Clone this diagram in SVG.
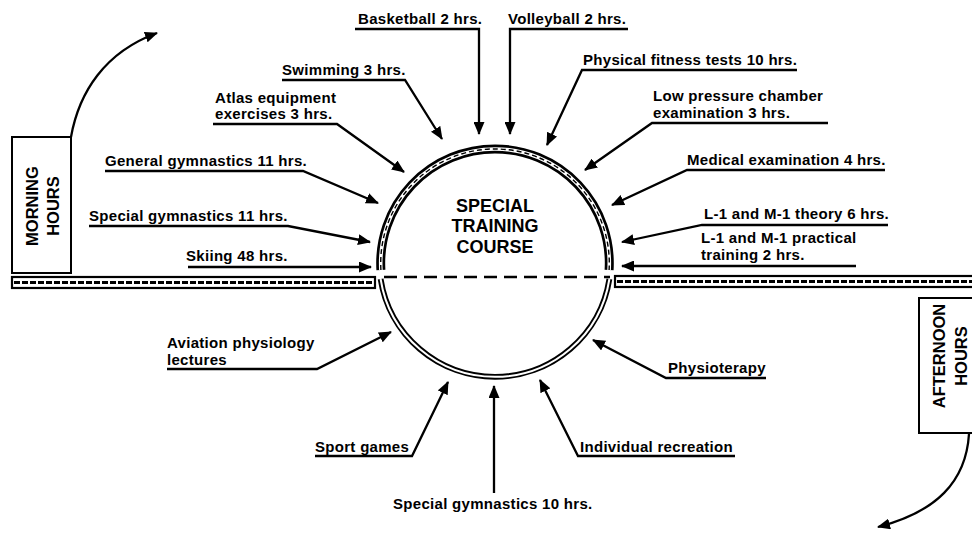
<svg xmlns="http://www.w3.org/2000/svg" width="972" height="535" viewBox="0 0 972 535">
<style>
  .lbl{font-family:"Liberation Sans",Arial,sans-serif;font-weight:bold;font-size:15px;letter-spacing:0.3px;fill:#000}
  .ttl{font-family:"Liberation Sans",Arial,sans-serif;font-weight:bold;font-size:18px;fill:#000}
  .vt{font-family:"Liberation Sans",Arial,sans-serif;font-weight:bold;font-size:16.5px;fill:#000}
  .box{fill:#fff;stroke:#000;stroke-width:2}
  .con{fill:none;stroke:#000;stroke-width:2.3;stroke-linejoin:miter}
  .ringO{fill:none;stroke:#000}
  .ringI{fill:none;stroke:#fff}
  .hatch{stroke:#000;stroke-width:2.8;stroke-dasharray:6 2}
</style>
<defs>
  <marker id="ah" markerUnits="userSpaceOnUse" markerWidth="13" markerHeight="11" refX="12" refY="5.5" orient="auto">
    <path d="M0,0 L13,5.5 L0,11 z" fill="#000"/>
  </marker>
</defs>
<rect width="972" height="535" fill="#fff"/>

<!-- horizontal bands -->
<g id="band-left">
  <rect x="12" y="277" width="363" height="11" fill="#fff" stroke="#000" stroke-width="2.2"/>
  <line class="hatch" x1="14" y1="282.5" x2="373" y2="282.5"/>
</g>
<g id="band-right">
  <rect x="615" y="276" width="370" height="11" fill="#fff" stroke="#000" stroke-width="2.2"/>
  <line class="hatch" x1="617" y1="281.5" x2="972" y2="281.5"/>
</g>

<!-- central node -->
<g id="special-training-course">
  <path class="ringO" stroke-width="9" d="M380.9,270 A114.3,114.3 0 1 1 609.1,270"/>
  <path class="ringI" stroke-width="3.6" d="M380.9,270 A114.3,114.3 0 1 1 609.1,270"/>
  <path fill="none" stroke="#000" stroke-width="1.4" stroke-dasharray="5 3" d="M380.9,270 A114.3,114.3 0 1 1 609.1,270"/>
  <path class="ringO" stroke-width="5.8" d="M609.4,279 A115.8,115.8 0 0 1 380.6,279"/>
  <path class="ringI" stroke-width="2" d="M609.4,279 A115.8,115.8 0 0 1 380.6,279"/>
  <line x1="384" y1="277" x2="610" y2="277" stroke="#000" stroke-width="2.6" stroke-dasharray="13 7"/>
  <text class="ttl" x="495" y="212" text-anchor="middle">SPECIAL</text>
  <text class="ttl" x="495" y="232" text-anchor="middle">TRAINING</text>
  <text class="ttl" x="495" y="253" text-anchor="middle">COURSE</text>
</g>

<g id="morning-hours">
  <rect class="box" x="12" y="137" width="59" height="136"/>
  <text class="vt" transform="translate(37.5,206) rotate(-90)" text-anchor="middle">MORNING</text>
  <text class="vt" transform="translate(59,206) rotate(-90)" text-anchor="middle">HOURS</text>
</g>
<g id="afternoon-hours">
  <rect class="box" x="919" y="298" width="70" height="135"/>
  <text class="vt" transform="translate(945,356) rotate(-90)" text-anchor="middle">AFTERNOON</text>
  <text class="vt" transform="translate(967,356) rotate(-90)" text-anchor="middle">HOURS</text>
</g>

<!-- labels -->
<g id="basketball"><text class="lbl" x="358" y="24">Basketball 2 hrs.</text></g>
<g id="volleyball"><text class="lbl" x="508" y="24">Volleyball 2 hrs.</text></g>
<g id="swimming"><text class="lbl" x="282" y="75">Swimming 3 hrs.</text></g>
<g id="atlas"><text class="lbl" x="215" y="103">Atlas equipment</text><text class="lbl" x="215" y="119">exercises 3 hrs.</text></g>
<g id="general-gymnastics"><text class="lbl" x="105" y="166">General gymnastics 11 hrs.</text></g>
<g id="special-gymnastics-11"><text class="lbl" x="89" y="221">Special gymnastics 11 hrs.</text></g>
<g id="skiing"><text class="lbl" x="186" y="261">Skiing 48 hrs.</text></g>
<g id="physical-fitness"><text class="lbl" x="583" y="65">Physical fitness tests 10 hrs.</text></g>
<g id="low-pressure"><text class="lbl" x="653" y="101">Low pressure chamber</text><text class="lbl" x="653" y="118">examination 3 hrs.</text></g>
<g id="medical"><text class="lbl" x="687" y="165">Medical examination 4 hrs.</text></g>
<g id="l1-theory"><text class="lbl" x="704" y="219">L-1 and M-1 theory 6 hrs.</text></g>
<g id="l1-practical"><text class="lbl" x="701" y="243">L-1 and M-1 practical</text><text class="lbl" x="701" y="260">training 2 hrs.</text></g>
<g id="aviation"><text class="lbl" x="167" y="348">Aviation physiology</text><text class="lbl" x="167" y="365">lectures</text></g>
<g id="sport-games"><text class="lbl" x="315" y="452">Sport games</text></g>
<g id="special-gymnastics-10"><text class="lbl" x="393" y="509">Special gymnastics 10 hrs.</text></g>
<g id="individual-recreation"><text class="lbl" x="580" y="452">Individual recreation</text></g>
<g id="physiotherapy"><text class="lbl" x="668" y="373">Physioterapy</text></g>

<!-- connectors -->
<g id="connectors">
  <path class="con" marker-end="url(#ah)" d="M355,29 H479 V134"/>
  <path class="con" marker-end="url(#ah)" d="M628,29 H510 V134"/>
  <path class="con" marker-end="url(#ah)" d="M282,80 H405 L442,139"/>
  <path class="con" marker-end="url(#ah)" d="M213,124 H337 L404,172"/>
  <path class="con" marker-end="url(#ah)" d="M105,171 H303 L378,203"/>
  <path class="con" marker-end="url(#ah)" d="M89,226 H288 L370,242"/>
  <path class="con" marker-end="url(#ah)" d="M188,267 H371"/>
  <path class="con" marker-end="url(#ah)" d="M797,70 H582 L547,145"/>
  <path class="con" marker-end="url(#ah)" d="M828,123 H652 L585,170"/>
  <path class="con" marker-end="url(#ah)" d="M885,170 H687 L612,205"/>
  <path class="con" marker-end="url(#ah)" d="M888,225 H702 L622,242"/>
  <path class="con" marker-end="url(#ah)" d="M856,266 H622"/>
  <path class="con" marker-end="url(#ah)" d="M167,369 H317 L391,332"/>
  <path class="con" marker-end="url(#ah)" d="M315,456 H412 L448,382"/>
  <path class="con" marker-end="url(#ah)" d="M494,493 V386"/>
  <path class="con" marker-end="url(#ah)" d="M735,456 H578 L540,380"/>
  <path class="con" marker-end="url(#ah)" d="M766,378 H666 L593,340"/>
  <path class="con" marker-end="url(#ah)" d="M71,137 C79,92 105,52 157,33"/>
  <path class="con" marker-end="url(#ah)" d="M969,434 C966,482 936,512 878,527"/>
</g>
</svg>
